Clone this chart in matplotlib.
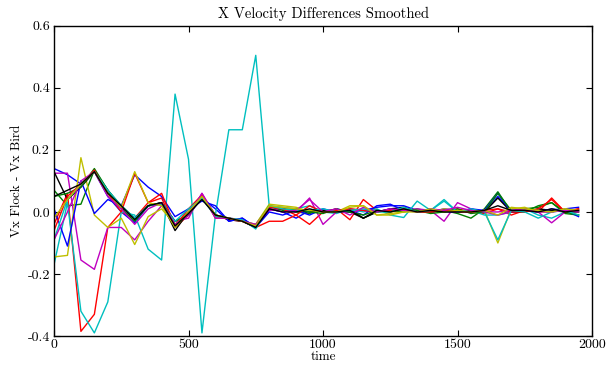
import matplotlib
matplotlib.use("Agg")
import matplotlib.pyplot as plt
import numpy as np

time = list(range(0, 2000, 50))

colors = ['b', 'g', 'r', 'c', 'm', 'y', 'k', 'b', 'g', 'r', 'c', 'm', 'y', 'k']

s0 = [0.14, 0.12, 0.09, 0.13, 0.05, 0.00, -0.035, 0.02, 0.03, -0.03, -0.01, 0.045, 0.01, -0.03, -0.02, -0.05, 0.01, 0.00, -0.02, 0.005, 0.00, 0.01, 0.0, 0.005, 0.015, 0.02, 0.02, 0.005, 0.0, 0.01, 0.005, 0.0, 0.0, 0.05, 0.005, 0.01, 0.005, 0.0, 0.01, 0.015]
s1 = [0.07, 0.02, 0.025, 0.135, 0.07, 0.02, -0.02, 0.02, 0.025, -0.04, 0.0, 0.05, -0.015, -0.02, -0.03, -0.04, 0.02, 0.01, 0.0, -0.005, 0.005, 0.0, 0.01, -0.02, 0.0, 0.005, 0.0, 0.01, 0.0, 0.005, -0.005, -0.02, 0.01, 0.065, 0.0, 0.01, 0.015, 0.03, -0.005, -0.01]
s2 = [-0.04, 0.06, -0.385, -0.33, -0.05, 0.0, -0.02, 0.03, 0.045, -0.05, -0.01, 0.05, -0.01, -0.025, -0.03, -0.05, -0.03, -0.03, -0.01, -0.04, 0.0, 0.01, -0.025, 0.04, 0.005, 0.0, 0.01, 0.0, 0.005, 0.0, 0.01, 0.0, -0.005, 0.01, -0.01, 0.005, 0.0, 0.045, 0.0, 0.01]
s3 = [-0.17, 0.03, -0.32, -0.39, -0.29, 0.0, -0.01, -0.12, -0.155, 0.38, 0.17, -0.39, -0.01, 0.265, 0.265, 0.505, 0.02, 0.015, 0.01, 0.02, 0.0, -0.005, 0.01, 0.0, 0.01, -0.01, -0.018, 0.035, 0.005, 0.04, 0.0, 0.005, -0.01, -0.01, 0.0, 0.01, -0.01, -0.02, 0.0, 0.005]
s4 = [0.125, 0.125, -0.155, -0.185, -0.05, -0.05, -0.09, -0.03, 0.02, -0.03, -0.02, 0.06, -0.01, -0.02, -0.025, -0.05, 0.005, 0.01, 0.0, 0.045, -0.04, 0.0, 0.01, 0.005, 0.0, 0.01, 0.005, 0.01, 0.005, -0.03, 0.03, 0.01, 0.0, -0.01, 0.0, 0.005, 0.0, -0.035, 0.0, 0.005]
s5 = [-0.145, -0.14, 0.175, -0.01, -0.05, -0.02, -0.105, -0.015, 0.01, -0.04, 0.0, 0.05, -0.01, -0.02, -0.03, -0.04, 0.025, 0.02, 0.015, 0.0, 0.005, 0.0, 0.02, 0.02, -0.01, -0.01, 0.0, 0.005, 0.0, 0.01, 0.005, 0.0, 0.005, -0.1, 0.01, 0.015, 0.0, 0.0, 0.01, 0.0]
s6 = [0.13, 0.04, 0.08, 0.13, 0.07, 0.015, -0.02, 0.02, 0.03, -0.06, 0.0, 0.045, -0.01, -0.025, -0.03, -0.05, 0.015, 0.01, 0.005, 0.0, 0.005, 0.0, 0.0, -0.02, 0.0, 0.01, 0.015, 0.0, 0.0, 0.005, 0.0, 0.005, 0.0, 0.045, 0.0, 0.0, 0.01, 0.005, 0.0, 0.0]
s7 = [0.01, -0.11, 0.10, -0.005, 0.04, 0.02, 0.12, 0.08, 0.05, -0.015, 0.01, 0.035, 0.02, -0.03, -0.02, -0.05, 0.0, -0.01, 0.005, -0.01, 0.01, 0.0, 0.005, -0.01, 0.02, 0.025, 0.005, 0.0, 0.01, 0.0, 0.0, 0.01, 0.005, 0.06, 0.0, 0.005, 0.0, 0.01, 0.005, -0.015]
s8 = [0.05, 0.06, 0.08, 0.14, 0.07, 0.01, -0.03, 0.02, 0.03, -0.03, -0.01, 0.05, -0.01, -0.02, -0.03, -0.045, 0.02, 0.005, 0.01, 0.0, -0.005, 0.01, 0.0, -0.01, 0.005, 0.0, 0.01, 0.005, -0.005, 0.0, 0.01, -0.005, 0.0, 0.06, 0.005, 0.0, 0.02, 0.03, 0.0, -0.01]
s9 = [-0.06, 0.05, 0.09, 0.135, 0.06, 0.0, 0.125, 0.03, 0.06, -0.045, 0.01, 0.055, -0.02, -0.02, -0.03, -0.045, 0.015, 0.01, -0.01, 0.02, 0.0, 0.005, 0.01, 0.005, 0.0, 0.005, 0.01, 0.0, 0.0, 0.005, 0.0, 0.0, 0.005, 0.01, 0.0, 0.0, 0.01, 0.04, 0.0, 0.01]
s10 = [-0.09, 0.04, 0.09, 0.13, 0.07, 0.02, -0.02, 0.02, 0.025, -0.03, 0.01, 0.045, -0.015, -0.02, -0.025, -0.055, 0.02, 0.01, 0.005, 0.005, 0.01, 0.0, 0.005, 0.01, 0.0, 0.0, 0.015, 0.0, 0.005, 0.035, 0.0, 0.01, 0.0, -0.09, 0.005, 0.0, -0.02, 0.0, 0.005, -0.01]
s11 = [-0.09, 0.0, 0.1, 0.13, 0.05, 0.01, -0.04, 0.01, 0.03, -0.04, -0.01, 0.06, -0.02, -0.02, -0.03, -0.04, 0.01, 0.0, 0.005, 0.04, 0.0, 0.01, -0.01, 0.015, 0.0, 0.01, 0.005, 0.0, 0.01, 0.005, 0.015, 0.005, 0.0, 0.0, 0.005, 0.01, 0.0, 0.0, 0.005, 0.0]
s12 = [-0.02, 0.04, 0.09, 0.13, 0.06, 0.015, 0.13, 0.03, 0.02, -0.05, 0.0, 0.05, -0.01, -0.02, -0.03, -0.045, 0.02, 0.015, 0.01, 0.005, 0.0, 0.0, 0.015, 0.02, -0.01, -0.005, 0.0, 0.0, 0.01, 0.0, 0.005, 0.0, 0.005, -0.01, 0.015, 0.01, 0.005, 0.0, 0.01, 0.005]
s13 = [0.05, 0.07, 0.09, 0.13, 0.06, 0.02, -0.025, 0.02, 0.03, -0.045, -0.005, 0.04, -0.01, -0.02, -0.03, -0.05, 0.01, 0.0, 0.0, 0.01, 0.0, 0.0, 0.005, -0.02, 0.005, 0.0, 0.01, 0.0, 0.005, 0.0, 0.0, 0.0, 0.005, 0.02, 0.005, 0.005, 0.0, 0.01, 0.0, 0.005]

series = [s0, s1, s2, s3, s4, s5, s6, s7, s8, s9, s10, s11, s12, s13]

xticks = [0, 500, 1000, 1500, 2000]
xtick_labels = ['0', '500', '1000', '1500', '2000']
yticks = [-0.4, -0.2, 0.0, 0.2, 0.4, 0.6]
ytick_labels = ['-0.4', '-0.2', '0.0', '0.2', '0.4', '0.6']

plt.rcParams['font.family'] = 'serif'
plt.rcParams['font.serif'] = ['cmr10', 'DejaVu Serif']
plt.rcParams['mathtext.fontset'] = 'cm'

fig = plt.figure(figsize=(6.11, 3.71), dpi=100)
ax = fig.add_axes([0.0884, 0.0943, 0.8805, 0.836])

for s, c in zip(series, colors):
    ax.plot(time, s, color=c, linewidth=1.0)

ax.set_xlim(0, 2000)
ax.set_ylim(-0.4, 0.6)
ax.set_xticks(xticks)
ax.set_xticklabels(xtick_labels)
ax.set_yticks(yticks)
ax.set_yticklabels(ytick_labels)
ax.tick_params(direction='in', top=True, right=True, length=4, width=0.8,
               labelsize=10, colors='black')
ax.tick_params(axis='x', pad=2)
ax.tick_params(axis='y', pad=3)
for sp in ax.spines.values():
    sp.set_linewidth(1.0)

ax.set_title('X Velocity Differences Smoothed', fontsize=10.5, pad=6)
ax.set_xlabel('time', fontsize=9.5, labelpad=0)
ax.set_ylabel('Vx Flock - Vx Bird', fontsize=9.5, labelpad=3)

fig.savefig('out.png', dpi=100)
